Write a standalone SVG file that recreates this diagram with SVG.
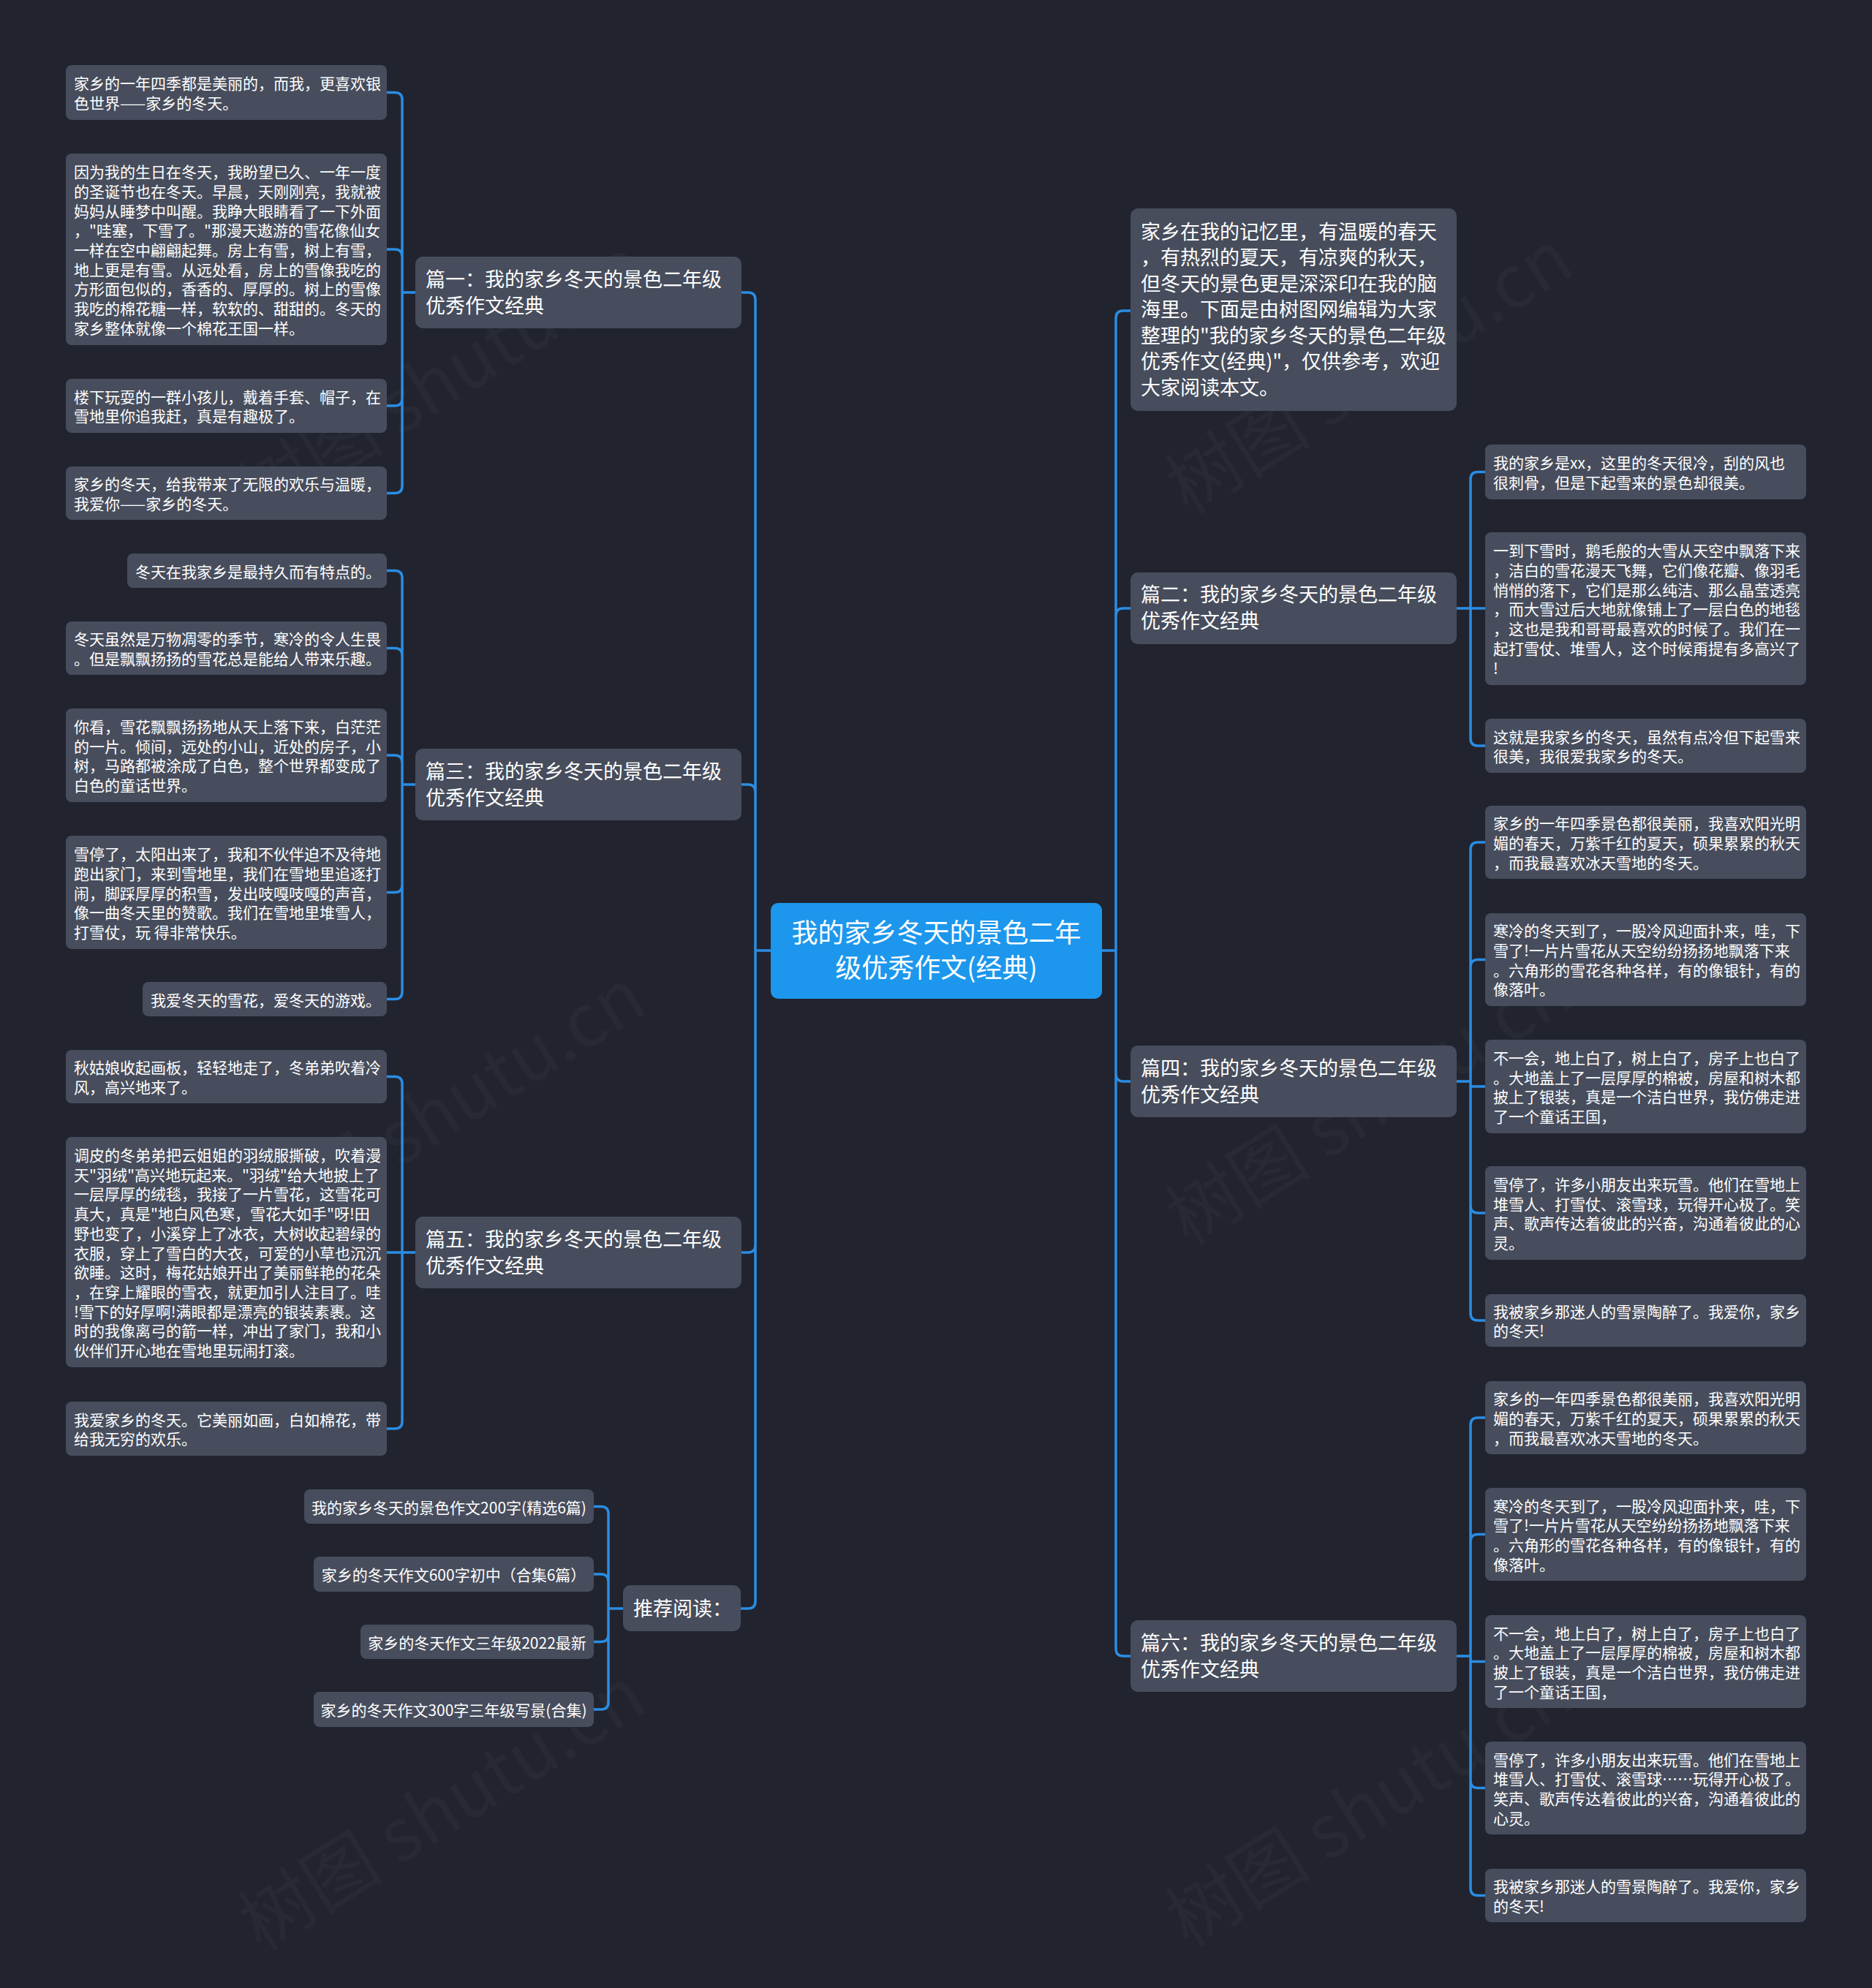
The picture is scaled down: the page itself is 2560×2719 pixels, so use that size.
<svg xmlns="http://www.w3.org/2000/svg" width="2560" height="2719" viewBox="0 0 2560 2719">
<style>
.bg{fill:#21242f}
.n{fill:#474d5c}
.c{fill:#1d97ed}
text{fill:#ffffff;font-family:"Noto Sans CJK SC","Noto Sans",sans-serif}
.s{font-size:21px}
.m{font-size:27px}
.l{font-size:36px}
.wm{font-size:100px;fill:#ffffff;fill-opacity:0.028;font-family:"Noto Sans CJK SC","Noto Sans",sans-serif}
.e{fill:none;stroke:#2b8de3;stroke-width:3.5;stroke-linecap:round;stroke-linejoin:round}
</style>
<rect class="bg" x="0" y="0" width="2560" height="2719"/>
<g id="watermark">
<text class="wm" transform="translate(357,715) rotate(-32)">树图 shutu.cn</text>
<text class="wm" transform="translate(1625,705) rotate(-32)">树图 shutu.cn</text>
<text class="wm" transform="translate(357,1715) rotate(-32)">树图 shutu.cn</text>
<text class="wm" transform="translate(1625,1705) rotate(-32)">树图 shutu.cn</text>
<text class="wm" transform="translate(357,2670) rotate(-32)">树图 shutu.cn</text>
<text class="wm" transform="translate(1625,2665) rotate(-32)">树图 shutu.cn</text>
</g>
<g id="connectors">
<path class="e" d="M1054,1300 H1033 M1033,1300 V410 Q1033,400 1023,400 H1014 M1033,1300 V1083 Q1033,1073 1023,1073 H1014 M1033,1300 V1703 Q1033,1713 1023,1713 H1014 M1033,1300 V2190 Q1033,2200 1023,2200 H1013"/>
<path class="e" d="M1507,1300 H1526 M1526,1300 V435 Q1526,425 1536,425 H1546 M1526,1300 V842 Q1526,832 1536,832 H1546 M1526,1300 V1469 Q1526,1479 1536,1479 H1546 M1526,1300 V2255 Q1526,2265 1536,2265 H1546"/>
<path class="e" d="M568,400 H550 M550,400 V136.5 Q550,126.5 540,126.5 H529 M550,400 V351 Q550,341 540,341 H529 M550,400 V545 Q550,555 540,555 H529 M550,400 V664.5 Q550,674.5 540,674.5 H529"/>
<path class="e" d="M568,1073 H550 M550,1073 V790.5 Q550,780.5 540,780.5 H529 M550,1073 V896.5 Q550,886.5 540,886.5 H529 M550,1073 V1043 Q550,1033 540,1033 H529 M550,1073 V1210.5 Q550,1220.5 540,1220.5 H529 M550,1073 V1356.5 Q550,1366.5 540,1366.5 H529"/>
<path class="e" d="M568,1713 H550 M550,1713 V1482.5 Q550,1472.5 540,1472.5 H529 M550,1713 H529 M550,1713 V1944 Q550,1954 540,1954 H529"/>
<path class="e" d="M852,2200 H832 M832,2200 V2070.5 Q832,2060.5 822,2060.5 H812 M832,2200 V2163 Q832,2153 822,2153 H812 M832,2200 V2235.5 Q832,2245.5 822,2245.5 H812 M832,2200 V2328 Q832,2338 822,2338 H812"/>
<path class="e" d="M1992,832 H2011 M2011,832 V655.5 Q2011,645.5 2021,645.5 H2031 M2011,832 H2031 M2011,832 V1010 Q2011,1020 2021,1020 H2031"/>
<path class="e" d="M1992,1479 H2011 M2011,1479 V1162 Q2011,1152 2021,1152 H2031 M2011,1479 V1322.5 Q2011,1312.5 2021,1312.5 H2031 M2011,1479 V1486 H2031 M2011,1479 V1649 Q2011,1659 2021,1659 H2031 M2011,1479 V1796 Q2011,1806 2021,1806 H2031"/>
<path class="e" d="M1992,2265 H2011 M2011,2265 V1949 Q2011,1939 2021,1939 H2031 M2011,2265 V2108.5 Q2011,2098.5 2021,2098.5 H2031 M2011,2265 V2272.5 H2031 M2011,2265 V2435.5 Q2011,2445.5 2021,2445.5 H2031 M2011,2265 V2582.5 Q2011,2592.5 2021,2592.5 H2031"/>
</g>
<g id="center">
<rect class="c" x="1054" y="1235" width="453" height="131" rx="10"/>
<text class="l" x="1280.5" y="1289" text-anchor="middle">我的家乡冬天的景色二年</text>
<text class="l" x="1280.5" y="1337" text-anchor="middle">级优秀作文(经典)</text>
</g>
<g id="p1">
<rect class="n" x="568" y="351" width="446" height="98" rx="10"/>
<text class="m" x="582" y="392">篇一：我的家乡冬天的景色二年级</text>
<text class="m" x="582" y="428">优秀作文经典</text>
</g>
<g id="p3">
<rect class="n" x="568" y="1024" width="446" height="98" rx="10"/>
<text class="m" x="582" y="1065">篇三：我的家乡冬天的景色二年级</text>
<text class="m" x="582" y="1101">优秀作文经典</text>
</g>
<g id="p5">
<rect class="n" x="568" y="1664" width="446" height="98" rx="10"/>
<text class="m" x="582" y="1705">篇五：我的家乡冬天的景色二年级</text>
<text class="m" x="582" y="1741">优秀作文经典</text>
</g>
<g id="rec">
<rect class="n" x="852" y="2168" width="161" height="63" rx="10"/>
<text class="m" x="866" y="2210">推荐阅读：</text>
</g>
<g id="intro">
<rect class="n" x="1546" y="285" width="446" height="277" rx="10"/>
<text class="m" x="1560" y="327">家乡在我的记忆里，有温暖的春天</text>
<text class="m" x="1560" y="362">，有热烈的夏天，有凉爽的秋天，</text>
<text class="m" x="1560" y="398">但冬天的景色更是深深印在我的脑</text>
<text class="m" x="1560" y="433">海里。下面是由树图网编辑为大家</text>
<text class="m" x="1560" y="469">整理的"我的家乡冬天的景色二年级</text>
<text class="m" x="1560" y="504">优秀作文(经典)"，仅供参考，欢迎</text>
<text class="m" x="1560" y="540">大家阅读本文。</text>
</g>
<g id="p2">
<rect class="n" x="1546" y="783" width="446" height="98" rx="10"/>
<text class="m" x="1560" y="823">篇二：我的家乡冬天的景色二年级</text>
<text class="m" x="1560" y="859">优秀作文经典</text>
</g>
<g id="p4">
<rect class="n" x="1546" y="1430" width="446" height="98" rx="10"/>
<text class="m" x="1560" y="1471">篇四：我的家乡冬天的景色二年级</text>
<text class="m" x="1560" y="1507">优秀作文经典</text>
</g>
<g id="p6">
<rect class="n" x="1546" y="2216" width="446" height="98" rx="10"/>
<text class="m" x="1560" y="2257">篇六：我的家乡冬天的景色二年级</text>
<text class="m" x="1560" y="2293">优秀作文经典</text>
</g>
<g id="l1a">
<rect class="n" x="90" y="89" width="439" height="75" rx="8"/>
<text class="s" x="101" y="122">家乡的一年四季都是美丽的，而我，更喜欢银</text>
<text class="s" x="101" y="149">色世界——家乡的冬天。</text>
</g>
<g id="l1b">
<rect class="n" x="90" y="210" width="439" height="262" rx="8"/>
<text class="s" x="101" y="243">因为我的生日在冬天，我盼望已久、一年一度</text>
<text class="s" x="101" y="270">的圣诞节也在冬天。早晨，天刚刚亮，我就被</text>
<text class="s" x="101" y="297">妈妈从睡梦中叫醒。我睁大眼睛看了一下外面</text>
<text class="s" x="101" y="323">，"哇塞，下雪了。"那漫天遨游的雪花像仙女</text>
<text class="s" x="101" y="350">一样在空中翩翩起舞。房上有雪，树上有雪，</text>
<text class="s" x="101" y="377">地上更是有雪。从远处看，房上的雪像我吃的</text>
<text class="s" x="101" y="403">方形面包似的，香香的、厚厚的。树上的雪像</text>
<text class="s" x="101" y="430">我吃的棉花糖一样，软软的、甜甜的。冬天的</text>
<text class="s" x="101" y="457">家乡整体就像一个棉花王国一样。</text>
</g>
<g id="l1c">
<rect class="n" x="90" y="518" width="439" height="74" rx="8"/>
<text class="s" x="101" y="551">楼下玩耍的一群小孩儿，戴着手套、帽子，在</text>
<text class="s" x="101" y="577">雪地里你追我赶，真是有趣极了。</text>
</g>
<g id="l1d">
<rect class="n" x="90" y="638" width="439" height="73" rx="8"/>
<text class="s" x="101" y="670">家乡的冬天，给我带来了无限的欢乐与温暖，</text>
<text class="s" x="101" y="697">我爱你——家乡的冬天。</text>
</g>
<g id="l3a">
<rect class="n" x="174" y="757" width="355" height="47" rx="8"/>
<text class="s" x="185" y="790">冬天在我家乡是最持久而有特点的。</text>
</g>
<g id="l3b">
<rect class="n" x="90" y="850" width="439" height="73" rx="8"/>
<text class="s" x="101" y="882">冬天虽然是万物凋零的季节，寒冷的令人生畏</text>
<text class="s" x="101" y="909">。但是飘飘扬扬的雪花总是能给人带来乐趣。</text>
</g>
<g id="l3c">
<rect class="n" x="90" y="969" width="439" height="128" rx="8"/>
<text class="s" x="101" y="1002">你看，雪花飘飘扬扬地从天上落下来，白茫茫</text>
<text class="s" x="101" y="1029">的一片。倾间，远处的小山，近处的房子，小</text>
<text class="s" x="101" y="1055">树，马路都被涂成了白色，整个世界都变成了</text>
<text class="s" x="101" y="1082">白色的童话世界。</text>
</g>
<g id="l3d">
<rect class="n" x="90" y="1143" width="439" height="155" rx="8"/>
<text class="s" x="101" y="1176">雪停了，太阳出来了，我和不伙伴迫不及待地</text>
<text class="s" x="101" y="1203">跑出家门，来到雪地里，我们在雪地里追逐打</text>
<text class="s" x="101" y="1230">闹，脚踩厚厚的积雪，发出吱嘎吱嘎的声音，</text>
<text class="s" x="101" y="1256">像一曲冬天里的赞歌。我们在雪地里堆雪人，</text>
<text class="s" x="101" y="1283">打雪仗，玩 得非常快乐。</text>
</g>
<g id="l3e">
<rect class="n" x="195" y="1343" width="334" height="47" rx="8"/>
<text class="s" x="206" y="1376">我爱冬天的雪花，爱冬天的游戏。</text>
</g>
<g id="l5a">
<rect class="n" x="90" y="1436" width="439" height="73" rx="8"/>
<text class="s" x="101" y="1468">秋姑娘收起画板，轻轻地走了，冬弟弟吹着冷</text>
<text class="s" x="101" y="1495">风，高兴地来了。</text>
</g>
<g id="l5b">
<rect class="n" x="90" y="1555" width="439" height="315" rx="8"/>
<text class="s" x="101" y="1588">调皮的冬弟弟把云姐姐的羽绒服撕破，吹着漫</text>
<text class="s" x="101" y="1615">天"羽绒"高兴地玩起来。"羽绒"给大地披上了</text>
<text class="s" x="101" y="1641">一层厚厚的绒毯，我接了一片雪花，这雪花可</text>
<text class="s" x="101" y="1668">真大，真是"地白风色寒，雪花大如手"呀!田</text>
<text class="s" x="101" y="1695">野也变了，小溪穿上了冰衣，大树收起碧绿的</text>
<text class="s" x="101" y="1722">衣服，穿上了雪白的大衣，可爱的小草也沉沉</text>
<text class="s" x="101" y="1748">欲睡。这时，梅花姑娘开出了美丽鲜艳的花朵</text>
<text class="s" x="101" y="1775">，在穿上耀眼的雪衣，就更加引人注目了。哇</text>
<text class="s" x="101" y="1802">!雪下的好厚啊!满眼都是漂亮的银装素裹。这</text>
<text class="s" x="101" y="1828">时的我像离弓的箭一样，冲出了家门，我和小</text>
<text class="s" x="101" y="1855">伙伴们开心地在雪地里玩闹打滚。</text>
</g>
<g id="l5c">
<rect class="n" x="90" y="1917" width="439" height="74" rx="8"/>
<text class="s" x="101" y="1950">我爱家乡的冬天。它美丽如画，白如棉花，带</text>
<text class="s" x="101" y="1976">给我无穷的欢乐。</text>
</g>
<g id="r1">
<rect class="n" x="416" y="2037" width="396" height="47" rx="8"/>
<text class="s" x="614" y="2070" text-anchor="middle">我的家乡冬天的景色作文200字(精选6篇)</text>
</g>
<g id="r2">
<rect class="n" x="429" y="2129" width="383" height="48" rx="8"/>
<text class="s" x="620.5" y="2162" text-anchor="middle">家乡的冬天作文600字初中（合集6篇）</text>
</g>
<g id="r3">
<rect class="n" x="493" y="2222" width="319" height="47" rx="8"/>
<text class="s" x="652.5" y="2255" text-anchor="middle">家乡的冬天作文三年级2022最新</text>
</g>
<g id="r4">
<rect class="n" x="429" y="2314" width="383" height="48" rx="8"/>
<text class="s" x="620.5" y="2347" text-anchor="middle">家乡的冬天作文300字三年级写景(合集)</text>
</g>
<g id="l2a">
<rect class="n" x="2031" y="608" width="439" height="75" rx="8"/>
<text class="s" x="2042" y="641">我的家乡是xx，这里的冬天很冷，刮的风也</text>
<text class="s" x="2042" y="668">很刺骨，但是下起雪来的景色却很美。</text>
</g>
<g id="l2b">
<rect class="n" x="2031" y="728" width="439" height="209" rx="8"/>
<text class="s" x="2042" y="761">一到下雪时，鹅毛般的大雪从天空中飘落下来</text>
<text class="s" x="2042" y="788">，洁白的雪花漫天飞舞，它们像花瓣、像羽毛</text>
<text class="s" x="2042" y="815">悄悄的落下，它们是那么纯洁、那么晶莹透亮</text>
<text class="s" x="2042" y="841">，而大雪过后大地就像铺上了一层白色的地毯</text>
<text class="s" x="2042" y="868">，这也是我和哥哥最喜欢的时候了。我们在一</text>
<text class="s" x="2042" y="895">起打雪仗、堆雪人，这个时候甭提有多高兴了</text>
<text class="s" x="2042" y="922">!</text>
</g>
<g id="l2c">
<rect class="n" x="2031" y="983" width="439" height="74" rx="8"/>
<text class="s" x="2042" y="1016">这就是我家乡的冬天，虽然有点冷但下起雪来</text>
<text class="s" x="2042" y="1042">很美，我很爱我家乡的冬天。</text>
</g>
<g id="l4a">
<rect class="n" x="2031" y="1102" width="439" height="100" rx="8"/>
<text class="s" x="2042" y="1134">家乡的一年四季景色都很美丽，我喜欢阳光明</text>
<text class="s" x="2042" y="1161">媚的春天，万紫千红的夏天，硕果累累的秋天</text>
<text class="s" x="2042" y="1188">，而我最喜欢冰天雪地的冬天。</text>
</g>
<g id="l4b">
<rect class="n" x="2031" y="1249" width="439" height="127" rx="8"/>
<text class="s" x="2042" y="1281">寒冷的冬天到了，一股冷风迎面扑来，哇，下</text>
<text class="s" x="2042" y="1308">雪了!一片片雪花从天空纷纷扬扬地飘落下来</text>
<text class="s" x="2042" y="1335">。六角形的雪花各种各样，有的像银针，有的</text>
<text class="s" x="2042" y="1361">像落叶。</text>
</g>
<g id="l4c">
<rect class="n" x="2031" y="1422" width="439" height="128" rx="8"/>
<text class="s" x="2042" y="1455">不一会，地上白了，树上白了，房子上也白了</text>
<text class="s" x="2042" y="1482">。大地盖上了一层厚厚的棉被，房屋和树木都</text>
<text class="s" x="2042" y="1508">披上了银装，真是一个洁白世界，我仿佛走进</text>
<text class="s" x="2042" y="1535">了一个童话王国，</text>
</g>
<g id="l4d">
<rect class="n" x="2031" y="1595" width="439" height="128" rx="8"/>
<text class="s" x="2042" y="1628">雪停了，许多小朋友出来玩雪。他们在雪地上</text>
<text class="s" x="2042" y="1655">堆雪人、打雪仗、滚雪球，玩得开心极了。笑</text>
<text class="s" x="2042" y="1681">声、歌声传达着彼此的兴奋，沟通着彼此的心</text>
<text class="s" x="2042" y="1708">灵。</text>
</g>
<g id="l4e">
<rect class="n" x="2031" y="1770" width="439" height="72" rx="8"/>
<text class="s" x="2042" y="1802">我被家乡那迷人的雪景陶醉了。我爱你，家乡</text>
<text class="s" x="2042" y="1828">的冬天!</text>
</g>
<g id="l6a">
<rect class="n" x="2031" y="1889" width="439" height="100" rx="8"/>
<text class="s" x="2042" y="1921">家乡的一年四季景色都很美丽，我喜欢阳光明</text>
<text class="s" x="2042" y="1948">媚的春天，万紫千红的夏天，硕果累累的秋天</text>
<text class="s" x="2042" y="1975">，而我最喜欢冰天雪地的冬天。</text>
</g>
<g id="l6b">
<rect class="n" x="2031" y="2035" width="439" height="127" rx="8"/>
<text class="s" x="2042" y="2068">寒冷的冬天到了，一股冷风迎面扑来，哇，下</text>
<text class="s" x="2042" y="2094">雪了!一片片雪花从天空纷纷扬扬地飘落下来</text>
<text class="s" x="2042" y="2121">。六角形的雪花各种各样，有的像银针，有的</text>
<text class="s" x="2042" y="2148">像落叶。</text>
</g>
<g id="l6c">
<rect class="n" x="2031" y="2209" width="439" height="127" rx="8"/>
<text class="s" x="2042" y="2242">不一会，地上白了，树上白了，房子上也白了</text>
<text class="s" x="2042" y="2268">。大地盖上了一层厚厚的棉被，房屋和树木都</text>
<text class="s" x="2042" y="2295">披上了银装，真是一个洁白世界，我仿佛走进</text>
<text class="s" x="2042" y="2322">了一个童话王国，</text>
</g>
<g id="l6d">
<rect class="n" x="2031" y="2382" width="439" height="127" rx="8"/>
<text class="s" x="2042" y="2415">雪停了，许多小朋友出来玩雪。他们在雪地上</text>
<text class="s" x="2042" y="2441">堆雪人、打雪仗、滚雪球……玩得开心极了。</text>
<text class="s" x="2042" y="2468">笑声、歌声传达着彼此的兴奋，沟通着彼此的</text>
<text class="s" x="2042" y="2495">心灵。</text>
</g>
<g id="l6e">
<rect class="n" x="2031" y="2556" width="439" height="73" rx="8"/>
<text class="s" x="2042" y="2588">我被家乡那迷人的雪景陶醉了。我爱你，家乡</text>
<text class="s" x="2042" y="2615">的冬天!</text>
</g>
</svg>
